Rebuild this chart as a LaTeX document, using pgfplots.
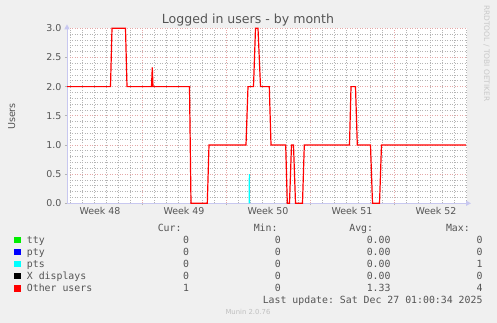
\documentclass[border=0pt]{standalone}
\usepackage{pgfplots}
\pgfplotsset{compat=1.18}
\usepackage{fontspec}
\setmainfont{DejaVu Sans}
\setmonofont{DejaVu Sans Mono}
\usetikzlibrary{arrows.meta}
\definecolor{bg}{HTML}{F0F0F0}
\definecolor{txt}{HTML}{555555}
\definecolor{mgrid}{HTML}{E4A8A8}
\definecolor{ngrid}{HTML}{B4B4B4}
\definecolor{axcol}{HTML}{C8C8F0}
\definecolor{ttyc}{HTML}{00EE00}
\definecolor{ptyc}{HTML}{0000FF}
\definecolor{ptsc}{HTML}{00FFFF}
\definecolor{xdc}{HTML}{000000}
\definecolor{othc}{HTML}{FF0000}
\newcommand\lf{\fontsize{9.9}{12}\ttfamily}
\begin{document}
\begin{tikzpicture}
\fill[bg] (0bp,0bp) rectangle (497bp,-323bp);
\useasboundingbox (0bp,0bp) rectangle (497bp,-323bp);
\begin{axis}[
  at={(67bp,-203.3bp)}, anchor=south west,
  scale only axis, width=400bp, height=175bp,
  xmin=0, xmax=33.3333, ymin=0, ymax=3,
  axis background/.style={fill=white},
  axis lines=left,
  axis line style={draw=axcol, line width=0.9bp, -{Triangle[length=5bp,width=5bp]}, shorten >=-4bp},
  xtick={6.25,13.25,20.25,27.25}, xticklabels={,,,},
  minor xtick={0.25,1.25,...,33.25},
  xmajorgrids, xminorgrids,
  extra x ticks={2.75,9.75,16.75,23.75,30.75},
  extra x tick labels={Week 48,Week 49,Week 50,Week 51,Week 52},
  extra x tick style={grid=none, major tick length=0pt},
  ytick={0,0.5,...,3}, minor y tick num=4,
  ymajorgrids, yminorgrids,
  major grid style={draw=mgrid, dash pattern=on 1bp off 1.5bp, line width=0.8bp},
  minor grid style={draw=ngrid, dash pattern=on 1bp off 1.5bp, line width=0.7bp},
  tick style={draw=ngrid, line width=0.8bp},
  major tick length=2bp, minor tick length=0pt, tick align=outside,
  ticklabel style={font=\fontsize{9.5}{11}\selectfont, text=txt},
  /pgf/number format/assume math mode=true,
  yticklabel style={/pgf/number format/.cd, fixed, fixed zerofill, precision=1},
  clip=false,
]
\addplot[color=othc, line width=1.2bp] coordinates {
(0,2)(3.625,2)(3.75,3)(4.875,3)(5.0,2)(7.042,2)(7.108,2.33)(7.167,2)(10.208,2)(10.333,0)(11.692,0)(11.833,1)(14.917,1)(15.083,2)(15.542,2)(15.708,3)(15.917,3)(16.125,2)(16.858,2)(17.0,1)(18.225,1)(18.358,0)(18.542,0)(18.708,1)(18.875,1)(19.042,0)(19.625,0)(19.775,1)(23.542,1)(23.667,2)(24.042,2)(24.192,1)(25.292,1)(25.458,0)(26.042,0)(26.208,1)(33.25,1)
};
\addplot[color=ptsc, line width=1bp] coordinates {(15.17,0)(15.19,0.5)(15.21,0)};
\end{axis}
% titles
\node[anchor=base, font=\fontsize{12.6}{14}\selectfont, text=txt, inner sep=0pt] at (248bp,-23.3bp) {Logged in users - by month};
\node[anchor=base, rotate=90, font=\fontsize{9.6}{11}\selectfont, text=txt, inner sep=0pt] at (15bp,-116.5bp) {Users};
\node[anchor=base, rotate=-90, font=\fontsize{7.5}{9}\selectfont, text={rgb,255:red,200;green,200;blue,200}, inner sep=0pt] at (484bp,-53.4bp) {RRDTOOL / TOBI OETIKER};
% legend header
\begin{scope}[every node/.style={font=\lf, text=txt, inner sep=0pt}]
\node[anchor=base east] at (181.7bp,-231bp) {Cur:};
\node[anchor=base east] at (277.7bp,-231bp) {Min:};
\node[anchor=base east] at (373.3bp,-231bp) {Avg:};
\node[anchor=base east] at (470bp,-231bp) {Max:};
% rows
\foreach \y/\c/\lab/\cur/\mn/\av/\mx in {
  243.3/ttyc/tty/0/0/0.00/0,
  255.4/ptyc/pty/0/0/0.00/0,
  267.5/ptsc/pts/0/0/0.00/1,
  279.6/xdc/X displays/0/0/0.00/0,
  291.7/othc/Other users/1/0/1.33/4} {
  \fill[\c] (14bp,-\y bp+6.4bp) rectangle (20.5bp,-\y bp+0.2bp);
  \node[anchor=base west] at (26.7bp,-\y bp) {\lab};
  \node[anchor=base east] at (189.3bp,-\y bp) {\cur};
  \node[anchor=base east] at (281bp,-\y bp) {\mn};
  \node[anchor=base east] at (390.7bp,-\y bp) {\av};
  \node[anchor=base east] at (482.7bp,-\y bp) {\mx};
}
\node[anchor=base east] at (482.7bp,-303.8bp) {Last update: Sat Dec 27 01:00:34 2025};
\end{scope}
\node[font=\fontsize{6.9}{8}\selectfont, text={rgb,255:red,192;green,192;blue,192}, inner sep=0pt] at (248bp,-311.7bp) {Munin 2.0.76};
\end{tikzpicture}
\end{document}
